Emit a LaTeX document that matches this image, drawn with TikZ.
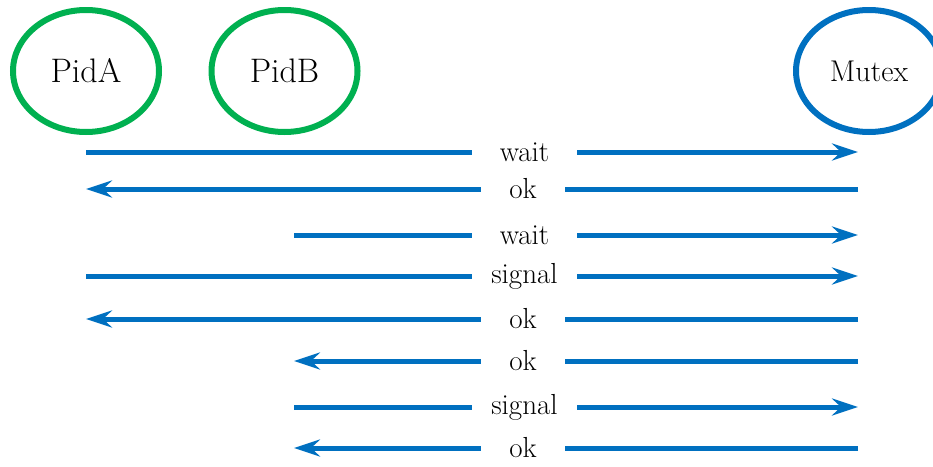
\documentclass[tikz,border=0pt]{standalone}
\usetikzlibrary{arrows.meta, shapes.geometric}
\definecolor{procgreen}{HTML}{00B050}
\definecolor{msgblue}{HTML}{0070C0}
\tikzset{
  actor/.style={ellipse, draw, line width=6pt, minimum width=146pt, minimum height=122pt, inner sep=0pt},
  proc/.style={actor, draw=procgreen, font=\fontsize{34}{38}\selectfont},
  lock/.style={actor, draw=msgblue, font=\fontsize{30}{34}\selectfont},
  msg/.style={draw=msgblue, line width=5pt},
  msgarrow/.style={msg, -{Stealth[length=26pt, width=17pt, inset=9pt]}},
  lbl/.style={inner sep=0pt, minimum height=30pt, font=\fontsize{29}{32}\selectfont},
  lblwide/.style={lbl, minimum width=105pt},
  lblnarrow/.style={lbl, minimum width=84pt},
}
\begin{document}
\begin{tikzpicture}[x=1pt, y=-1pt]
  \useasboundingbox (0,0) rectangle (933,466);
  \begin{scope}
    \clip (0,0) rectangle (933,466);
    % processes and the mutex
    \node[proc] (pida) at (86,71) {PidA};
    \node[proc] (pidb) at (284.5,71) {PidB};
    \node[lock] (mutex) at (869,71) {Mutex};
  \end{scope}

  % end points of the message lines
  \foreach \i/\y in {1/152,2/189,3/235,4/276,5/319,6/361,7/407,8/448} {
    \coordinate (a\i) at (86,\y);
    \coordinate (b\i) at (294,\y);
    \coordinate (m\i) at (858,\y);
  }

  % message labels
  \node[lblwide]   (l1) at (524.5,152) {wait};
  \node[lblnarrow] (l2) at (523,189)   {ok};
  \node[lblwide]   (l3) at (524.5,235) {wait};
  \node[lblwide]   (l4) at (524.5,276) {signal};
  \node[lblnarrow] (l5) at (523,319)   {ok};
  \node[lblnarrow] (l6) at (523,361)   {ok};
  \node[lblwide]   (l7) at (524.5,407) {signal};
  \node[lblnarrow] (l8) at (523,448)   {ok};

  % PidA wait
  \draw[msg] (a1) -- (l1.west);
  \draw[msgarrow] (l1.east) -- (m1);
  % ok to PidA
  \draw[msg] (m2) -- (l2.east);
  \draw[msgarrow] (l2.west) -- (a2);
  % PidB wait
  \draw[msg] (b3) -- (l3.west);
  \draw[msgarrow] (l3.east) -- (m3);
  % PidA signal
  \draw[msg] (a4) -- (l4.west);
  \draw[msgarrow] (l4.east) -- (m4);
  % ok to PidA
  \draw[msg] (m5) -- (l5.east);
  \draw[msgarrow] (l5.west) -- (a5);
  % ok to PidB
  \draw[msg] (m6) -- (l6.east);
  \draw[msgarrow] (l6.west) -- (b6);
  % PidB signal
  \draw[msg] (b7) -- (l7.west);
  \draw[msgarrow] (l7.east) -- (m7);
  % ok to PidB
  \draw[msg] (m8) -- (l8.east);
  \draw[msgarrow] (l8.west) -- (b8);
\end{tikzpicture}
\end{document}
